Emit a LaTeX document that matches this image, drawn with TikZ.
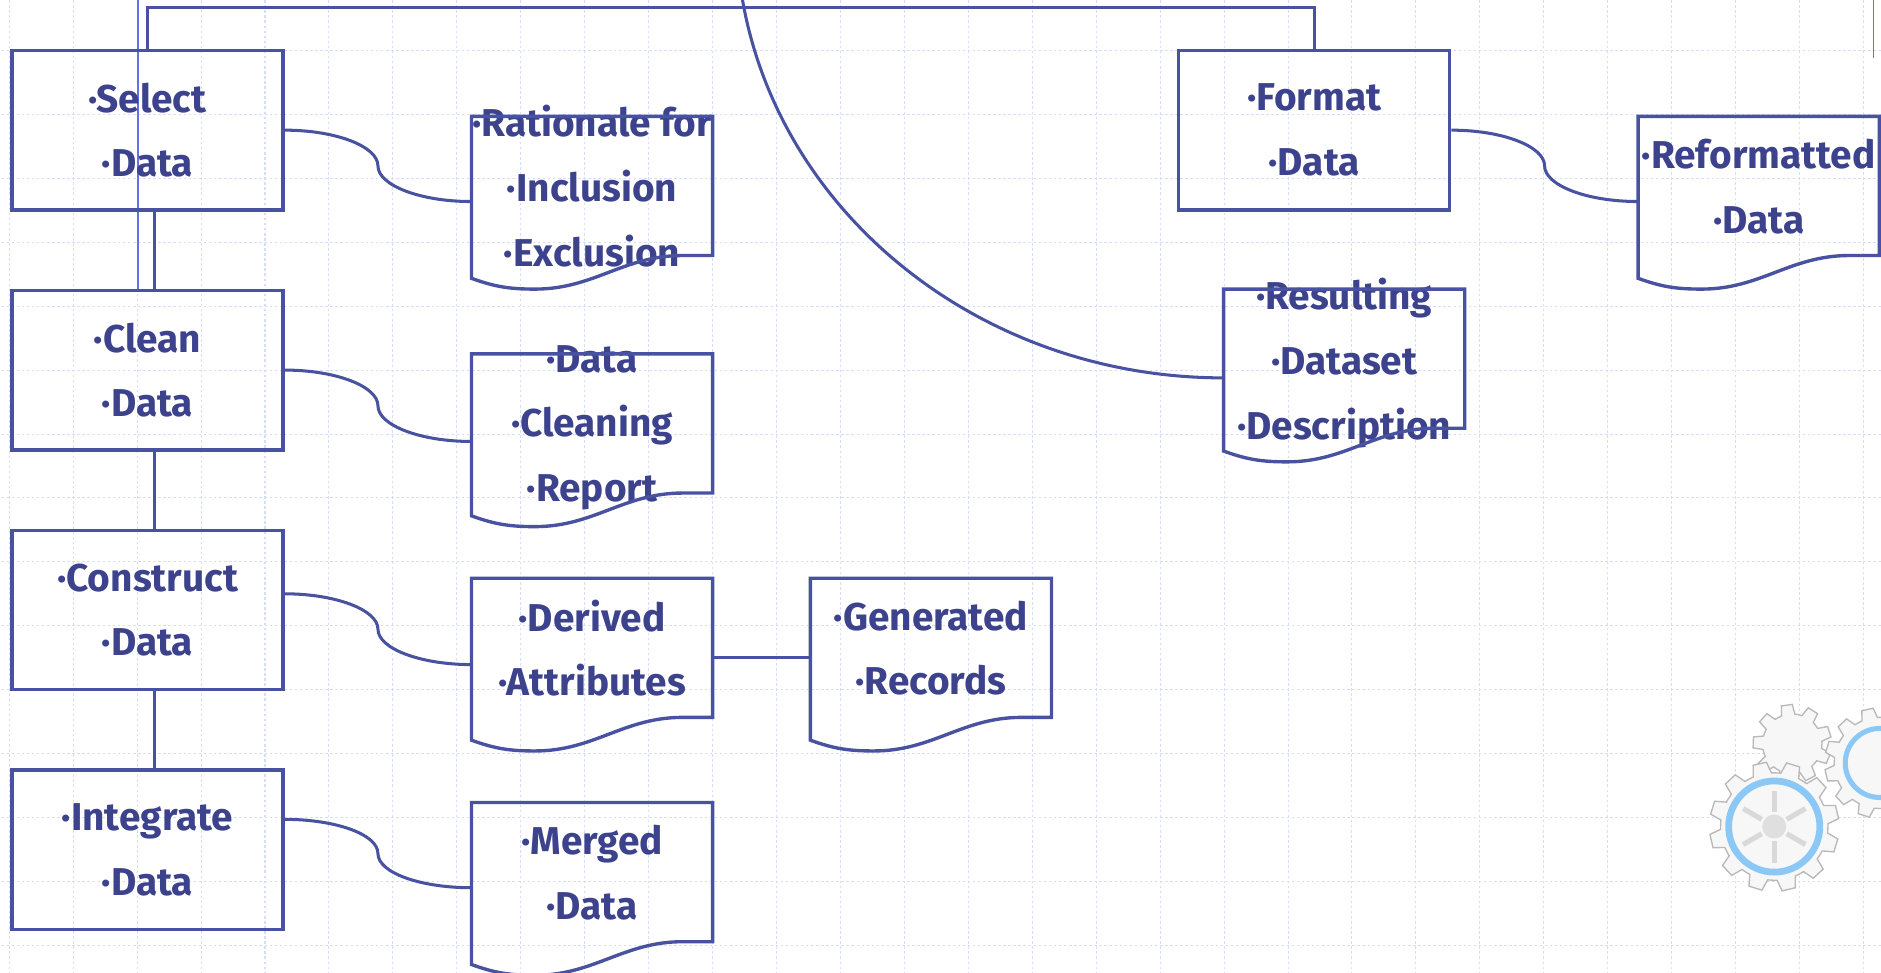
\documentclass[tikz,border=0pt]{standalone}
\usepackage{fontspec}
\setmainfont{Fira Sans}
\usetikzlibrary{positioning, calc}

\definecolor{ink}{RGB}{72,82,160}
\definecolor{inktext}{RGB}{60,66,140}
\definecolor{gridblue}{RGB}{212,222,250}
\definecolor{rulerblue}{RGB}{95,115,225}
\definecolor{gearblue}{RGB}{140,200,245}

\tikzstyle{process} = [rectangle, minimum width=5.65cm, minimum height=3.325cm, inner sep=0pt, align=center, draw=ink, line width=2pt, text=inktext, font=\fontsize{23}{38.4}\selectfont\bfseries]
\tikzstyle{doc} = [rectangle, minimum width=5.025cm, minimum height=2.9cm, inner sep=0pt, text depth=0pt, align=center, text=inktext, font=\fontsize{23}{38.4}\selectfont\bfseries]
\tikzstyle{link} = [draw=ink, line width=1.8pt]
\tikzstyle{docline} = [draw=ink, line width=2pt]
\tikzstyle{gridline} = [draw=gridblue, line width=0.6pt, dash pattern=on 1.5pt off 1.5pt]
\tikzstyle{gearrim} = [draw=gray!55, fill=gray!6, line width=0.8pt]

% document symbol with a wavy bottom edge
\newcommand{\docoutline}[1]{%
  \draw[docline] ($(#1.center)+(-2.5125,1.45)$) -- ++(5.025,0) -- ++(0,-2.9)
    -- ++(-0.625,0) to[out=180,in=0] ++(-3.075,-0.7)
    to[out=180,in=-20] ++(-1.325,0.225) -- cycle;}

% s-shaped link from a step to its output
\newcommand{\sconnect}[2]{%
  \draw[link] (#1) to[out=0,in=90,out looseness=1.3,in looseness=0.5] ($(#1)!0.5!(#2)$)
    to[out=-90,in=180,out looseness=0.5,in looseness=1.3] (#2);}

\begin{document}
\begin{tikzpicture}[node distance=5cm]

    \useasboundingbox (0,0) rectangle (39.2,-20.275);
    \clip (0,0) rectangle (39.2,-20.275);
    \fill[white] (0,0) rectangle (39.2,-20.275);

    % Background grid
    \draw[gridline, shift={(1.525,-1.05)}] (-1.6,-19.99) grid[step=1.3325cm] (37.7,1.1);
    \draw[rulerblue, line width=0.7pt] (2.875,0) -- (2.875,-6.05);
    \draw[rulerblue, line width=0.7pt] (39.05,0) -- (39.05,-1.2);

    % Steps
    \node (select) [process] at (3.075,-2.7125) {·Select\\·Data};
    \node (clean) [process, below of=select] {·Clean\\·Data};
    \node (construct) [process, below of=clean] {·Construct\\·Data};
    \node (integrate) [process, below of=construct] {·Integrate\\·Data};
    \node (format) [process, right of=select, xshift=19.3125cm] {·Format\\·Data};

    % Outputs
    \node (rationale) [doc, right of=select, xshift=4.2625cm, yshift=-1.1625cm] {·Rationale for\\·Inclusion\\·Exclusion};
    \node (report) [doc, below of=rationale, yshift=0.05cm] {·Data\\·Cleaning\\·Report};
    \node (derived) [doc, below of=report, yshift=0.325cm] {·Derived\\·Attributes};
    \node (merged) [doc, below of=derived, yshift=0.325cm] {·Merged\\·Data};
    \node (generated) [doc, right of=derived, xshift=2.0625cm] {·Generated\\·Records};
    \node (resulting) [doc, below of=format, xshift=0.625cm, yshift=0.2375cm] {·Resulting\\·Dataset\\·Description};
    \node (reformatted) [doc, right of=format, xshift=4.2625cm, yshift=-1.1625cm] {·Reformatted\\·Data};

    \docoutline{rationale}
    \docoutline{report}
    \docoutline{derived}
    \docoutline{merged}
    \docoutline{generated}
    \docoutline{resulting}
    \docoutline{reformatted}

    % Links
    \draw[link] (select.north) -- ++(0,0.85) -| (format.north);
    \draw[link] ([xshift=0.14cm]select.south) -- ([xshift=0.14cm]clean.north);
    \draw[link] ([xshift=0.14cm]clean.south) -- ([xshift=0.14cm]construct.north);
    \draw[link] ([xshift=0.14cm]construct.south) -- ([xshift=0.14cm]integrate.north);

    \sconnect{select.east}{[yshift=-0.325cm]rationale.west}
    \sconnect{clean.east}{[yshift=-0.375cm]report.west}
    \sconnect{[yshift=0.3375cm]construct.east}{[yshift=-0.35cm]derived.west}
    \sconnect{[yshift=0.6375cm]integrate.east}{[yshift=-0.325cm]merged.west}
    \sconnect{format.east}{[yshift=-0.325cm]reformatted.west}
    \draw[link] ([yshift=-0.2cm]derived.east) -- ([yshift=-0.2cm]generated.west);
    \draw[link] ([yshift=-0.4cm]resulting.west) arc[start angle=270, end angle=188, x radius=10.15cm, y radius=9.375cm];

    % Gears
    \begin{scope}[shift={(37.35,-15.5)}]
        \draw[gearrim] (0:0.62) \foreach \a in {0,40,...,320}{ -- (\a+5:0.62) -- (\a+10:0.82) -- (\a+26:0.82) -- (\a+31:0.62) -- (\a+40:0.62)} -- cycle;
    \end{scope}
    \begin{scope}[shift={(39.175,-15.9)}]
        \draw[gearrim] (0:0.95) \foreach \a in {0,30,...,330}{ -- (\a+3:0.95) -- (\a+7:1.15) -- (\a+19:1.15) -- (\a+23:0.95) -- (\a+30:0.95)} -- cycle;
        \draw[gearblue, line width=3pt] (0,0) circle (0.72);
    \end{scope}
    \begin{scope}[shift={(36.975,-17.225)}]
        \draw[gearrim] (0:1.12) \foreach \a in {0,30,...,330}{ -- (\a+3:1.12) -- (\a+7:1.35) -- (\a+19:1.35) -- (\a+23:1.12) -- (\a+30:1.12)} -- cycle;
        \draw[gearblue, line width=4pt] (0,0) circle (0.95);
        \fill[gray!25] (0,0) circle (0.25);
        \foreach \a in {30,90,...,330}
            \draw[gray!30, line width=3pt] (\a:0.3) -- (\a:0.75);
    \end{scope}

\end{tikzpicture}
\end{document}
